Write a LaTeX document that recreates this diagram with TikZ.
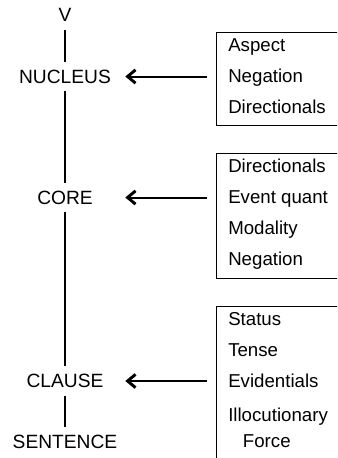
\documentclass[tikz,border=0pt]{standalone}
\usepackage{fontspec}
\setmainfont{Liberation Sans}
\usetikzlibrary{positioning,arrows.meta}
\tikzset{
  tier/.style={font=\fontsize{14.4}{17}\selectfont,minimum width=90pt,
    text height=10pt,text depth=0pt,inner xsep=0pt,inner ysep=6pt},
  opbox/.style={draw,line width=0.8pt,anchor=north west,
    minimum width=150pt,inner sep=0pt},
  oplist/.style={font=\fontsize{14}{23.25}\selectfont,align=left,inner sep=0pt},
  spine/.style={line width=1.6pt},
  feed/.style={-{Straight Barb[length=6pt,width=10pt,line width=2.2pt]},
    line width=1.5pt,shorten <=6.75pt}
}
\begin{document}
\begin{tikzpicture}[x=0.75pt,y=-0.75pt]
  \useasboundingbox (0,0) rectangle (337,458);
  \clip (0,0) rectangle (337,458);

  % layers of the clause
  \node [tier] (v) at (65,15) {V};
  \node [tier] (nucleus) at (65,76.5) {NUCLEUS};
  \node [tier] (core) at (65,197.5) {CORE};
  \node [tier] (clause) at (65,381) {CLAUSE};
  \node [tier] (sentence) at (65,442) {SENTENCE};

  \path (v) edge [spine] (nucleus)
        (nucleus) edge [spine] (core)
        (core) edge [spine] (clause)
        (clause) edge [spine] (sentence);

  % operator boxes
  \node [opbox,minimum height=69.75pt] (nucbox) at (216,32) {};
  \node [opbox,minimum height=93.75pt] (corebox) at (216,153) {};
  \node [opbox,minimum height=120pt] (clausebox) at (216,306) {};

  \node [oplist,below right=5pt and 9pt of nucbox.north west] (nuclist)
        {Aspect\\Negation\\Directionals};
  \node [oplist,below right=4.5pt and 9pt of corebox.north west] (corelist)
        {Directionals\\Event quant\\Modality\\Negation};
  \node [oplist,below right=5pt and 9pt of clausebox.north west] (clauselist)
        {Status\\Tense\\Evidentials\\[2pt]Illocutionary\\[-3.75pt]\hspace*{11pt}Force};

  \draw [feed] (nucbox.west |- nucleus) -- (nucleus);
  \draw [feed] (corebox.west |- core) -- (core);
  \draw [feed] (clausebox.west |- clause) -- (clause);
\end{tikzpicture}
\end{document}
